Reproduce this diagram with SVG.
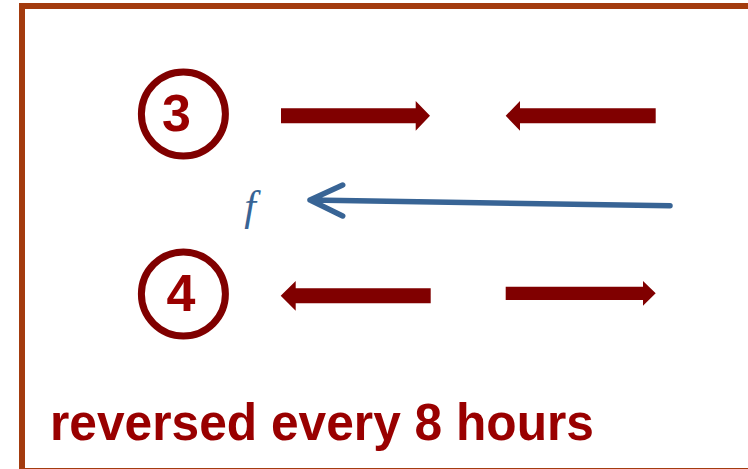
<svg xmlns="http://www.w3.org/2000/svg" width="748" height="469" viewBox="0 0 748 469">
<style>
.ring{fill:none;stroke:#800000;stroke-width:7}
.num{font-family:"Liberation Sans",Arial,sans-serif;font-weight:bold;font-size:52px;fill:#990000;text-anchor:middle}
.arr{fill:#800000}
.blue{fill:none;stroke:#386495;stroke-width:5.5;stroke-linecap:round;stroke-linejoin:round}
.cap{font-family:"Liberation Sans",Arial,sans-serif;font-weight:bold;font-size:52px;fill:#990000}
</style>
<rect x="22" y="6" width="800" height="465" fill="#ffffff" stroke="#A33B0E" stroke-width="6"/>
<g id="node3">
<circle class="ring" cx="183.4" cy="114" r="42"/>
<text class="num" x="176.5" y="131">3</text>
</g>
<g id="node4">
<circle class="ring" cx="183.4" cy="294" r="42"/>
<text class="num" x="181" y="311">4</text>
</g>
<g id="label-f">
<text x="250" y="220" font-family="'Liberation Serif','Times New Roman',serif" font-style="italic" font-size="42" fill="#386495" text-anchor="middle">f</text>
</g>
<g id="connectors">
<polygon class="arr" points="281,108.3 415.7,108.3 415.7,101 430,115.8 415.7,130.7 415.7,123.3 281,123.3"/>
<polygon class="arr" points="655.7,108.3 520,108.3 520,101 505.7,115.8 520,130.7 520,123.3 655.7,123.3"/>
<polygon class="arr" points="430.7,288.3 295.7,288.3 295.7,281 280.7,295.8 295.7,310.7 295.7,303.3 430.7,303.3"/>
<polygon class="arr" points="505.7,286.7 643,286.7 643,281 655.7,293.3 643,305.7 643,300 505.7,300"/>
<path class="blue" d="M670,205.7 L310,200 M342.7,185 L310,200 L342.7,216"/>
</g>
<text class="cap" x="50" y="440" textLength="544" lengthAdjust="spacingAndGlyphs">reversed every 8 hours</text>
</svg>
